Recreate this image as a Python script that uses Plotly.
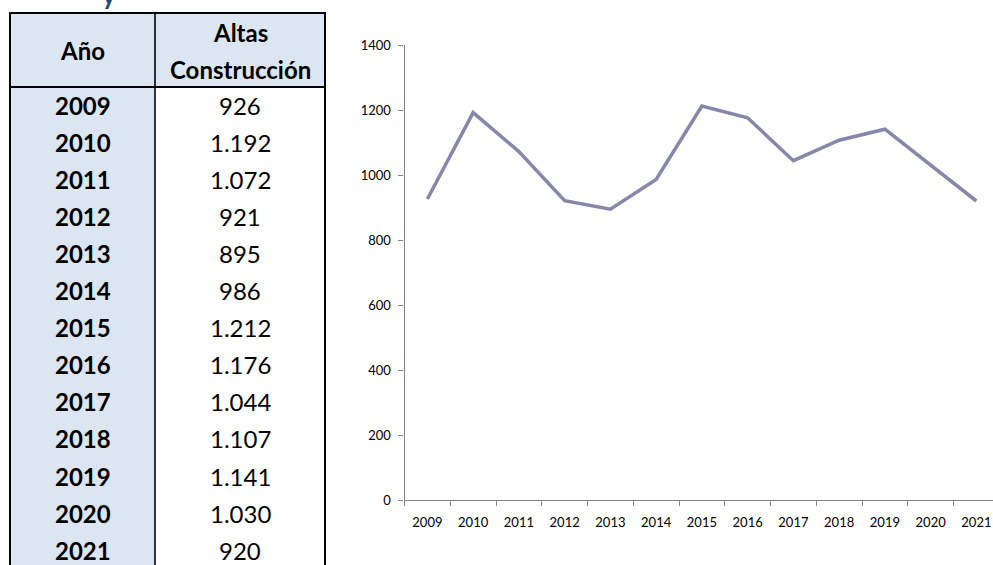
import plotly.graph_objects as go

years = ["2009", "2010", "2011", "2012", "2013", "2014", "2015", "2016",
         "2017", "2018", "2019", "2020", "2021"]
altas = [926, 1192, 1072, 921, 895, 986, 1212, 1176, 1044, 1107, 1141, 1030, 920]
altas_labels = ["926", "1.192", "1.072", "921", "895", "986", "1.212", "1.176",
                "1.044", "1.107", "1.141", "1.030", "920"]
y_ticks = [0, 200, 400, 600, 800, 1000, 1200, 1400]
header_year = "Año"
header_value = ["Altas", "Construcción"]
title_fragment = "y"

W, H = 993, 565
FONT = "Lato"
LIGHT = "#DCE6F2"
LINE_COLOR = "#8787AA"
AXIS_COLOR = "#868686"


def px(x):
    return x / W


def py(y):
    return 1 - y / H


fig = go.Figure()
fig.add_trace(go.Scatter(
    x=years, y=altas, mode="lines",
    line=dict(color=LINE_COLOR, width=3.5),
    hoverinfo="x+y", showlegend=False,
))

# ---- table geometry ----
T_LEFT, T_DIV, T_RIGHT = 10, 155, 325
T_TOP, T_HEAD = 13, 87
ROW0, ROW_PITCH = 105.0, 37.1
T_BOTTOM = 575

shapes = [
    dict(type="rect", xref="paper", yref="paper", x0=px(T_LEFT), x1=px(T_RIGHT),
         y0=py(T_HEAD), y1=py(T_TOP), fillcolor=LIGHT, line=dict(width=0), layer="below"),
    dict(type="rect", xref="paper", yref="paper", x0=px(T_LEFT), x1=px(T_DIV),
         y0=py(T_BOTTOM), y1=py(T_HEAD), fillcolor=LIGHT, line=dict(width=0), layer="below"),
]
for x, w in [(T_LEFT, 2), (T_RIGHT, 2), (T_DIV, 1.6)]:
    shapes.append(dict(type="line", xref="paper", yref="paper", x0=px(x), x1=px(x),
                       y0=py(T_BOTTOM), y1=py(T_TOP - 1), line=dict(color="#000", width=w)))
for y, w in [(T_TOP, 2), (T_HEAD, 1.8)]:
    shapes.append(dict(type="line", xref="paper", yref="paper", x0=px(T_LEFT - 1), x1=px(T_RIGHT + 1),
                       y0=py(y), y1=py(y), line=dict(color="#000", width=w)))

annotations = []
ycol_c = (T_LEFT + T_DIV) / 2
vcol_c = (T_DIV + T_RIGHT) / 2
annotations.append(dict(text="<b>%s</b>" % header_year, x=px(ycol_c), y=py(51),
                        xref="paper", yref="paper", showarrow=False,
                        xanchor="center", yanchor="middle",
                        font=dict(family=FONT, size=24, color="#000")))
for i, t in enumerate(header_value):
    annotations.append(dict(text="<b>%s</b>" % t, x=px(vcol_c), y=py(33 + 37 * i),
                            xref="paper", yref="paper", showarrow=False,
                            xanchor="center", yanchor="middle",
                            font=dict(family=FONT, size=24, color="#000")))
for i, (yr, lab) in enumerate(zip(years, altas_labels)):
    yc = ROW0 + ROW_PITCH * i
    annotations.append(dict(text="<b>%s</b>" % yr, x=px(ycol_c), y=py(yc),
                            xref="paper", yref="paper", showarrow=False,
                            xanchor="center", yanchor="middle",
                            font=dict(family=FONT, size=24, color="#000")))
    annotations.append(dict(text=lab, x=px(vcol_c), y=py(yc),
                            xref="paper", yref="paper", showarrow=False,
                            xanchor="center", yanchor="middle",
                            font=dict(family=FONT, size=24, color="#000")))

# cropped title fragment at the very top
annotations.append(dict(text="<b>%s</b>" % title_fragment, x=px(109), y=py(-4.5),
                        xref="paper", yref="paper", showarrow=False,
                        xanchor="center", yanchor="middle",
                        font=dict(family=FONT, size=26, color="#1F497D")))

AX_LEFT = 404.5
PITCH = 45.75
x_hi = (W - AX_LEFT) / PITCH - 0.5

fig.update_layout(
    template="none",
    width=W, height=H,
    margin=dict(l=0, r=0, t=0, b=0, pad=0, autoexpand=False),
    paper_bgcolor="white", plot_bgcolor="white",
    font=dict(family=FONT, color="#000"),
    shapes=shapes,
    annotations=annotations,
    xaxis=dict(
        domain=[px(AX_LEFT), 1.0],
        type="category",
        range=[-0.5, x_hi],
        tickmode="array", tickvals=years, ticktext=years,
        tickson="boundaries",
        ticks="outside", ticklen=5, tickwidth=1, tickcolor=AXIS_COLOR,
        showline=True, linecolor=AXIS_COLOR, linewidth=1.2,
        showgrid=False, zeroline=False, automargin=False,
        tickfont=dict(family=FONT, size=13, color="#000"),
        ticklabelstandoff=10,
        fixedrange=True,
    ),
    yaxis=dict(
        domain=[1 - 500 / H, 1 - 45 / H],
        range=[0, 1400],
        tickmode="array", tickvals=y_ticks, ticktext=[str(v) for v in y_ticks],
        ticks="outside", ticklen=5, tickwidth=1, tickcolor=AXIS_COLOR,
        showline=True, linecolor=AXIS_COLOR, linewidth=1.2,
        showgrid=False, zeroline=False, automargin=False,
        tickfont=dict(family=FONT, size=13, color="#000"),
        ticklabelstandoff=5,
        fixedrange=True,
    ),
)

post = ("document.documentElement.style.margin='0';"
        "document.body.style.margin='0';"
        "document.body.style.overflow='hidden';"
        "var gd=document.getElementById('{plot_id}');"
        "gd.style.position='fixed';gd.style.top='0px';gd.style.left='0px';")

fig.write_html("out.html", config={"displayModeBar": False}, post_script=post)
